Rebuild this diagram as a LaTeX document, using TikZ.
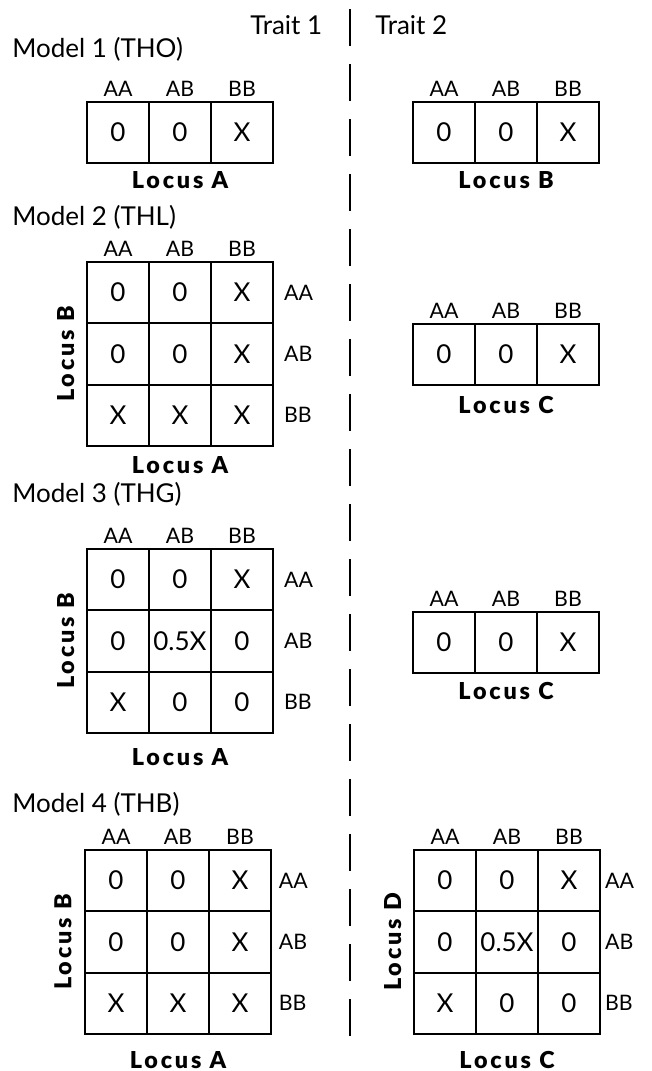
\documentclass[tikz,border=0pt]{standalone}
\usepackage{fontspec}
\setmainfont{Lato}
\newfontfamily\locusface[LetterSpace=12, BoldFont={Lato Black}]{Lato}

% one cell of a genotype table: #1 name prefix, #2 left edge, #3 top edge, #4 row-major values
\newcommand\cellgrid[4]{%
  \foreach \v [count=\i from 0] in {#4} {
    \pgfmathtruncatemacro\rr{floor(\i/3)+1}
    \pgfmathtruncatemacro\cc{mod(\i,3)+1}
    \node[cell] (#1-\rr-\cc) at ({#2+31+62*(\cc-1)},{#3+30.65+61.3*(\rr-1)}) {\v};
  }
}
% genotype labels above the columns of a table
\newcommand\colheads[1]{%
  \foreach \g [count=\cc] in {AA,AB,BB}
    \node[head, anchor=base] (#1-h\cc) at ([yshift=3.5pt]#1-1-\cc.north) {\g};
}
% genotype labels right of the rows of a table
\newcommand\rowheads[2]{%
  \foreach \g [count=\rr] in {AA,AB,BB}
    \node[head, anchor=west] (#1-v\rr) at ([xshift=#2]#1-\rr-3.east) {\g};
}

\begin{document}
\begin{tikzpicture}[x=0.75pt, y=-0.75pt,
  cell/.style={draw, line width=1.35pt, minimum width=46.5pt, minimum height=46pt,
    inner sep=0pt, font=\fontsize{19.5}{22}\selectfont},
  head/.style={inner sep=0pt, font=\fontsize{16}{18}\selectfont},
  title/.style={inner sep=0pt, anchor=base west, font=\fontsize{19.5}{22}\selectfont},
  locus/.style={inner sep=0pt, anchor=base, font=\fontsize{17.5}{20}\locusface\bfseries},
  divider/.style={line width=2pt, dash pattern=on 27.75pt off 13.5pt}]

\useasboundingbox (0,0) rectangle (652,1071);

% column headings and the divider between the two traits
\node[title] (trait1) at (250,34) {Trait 1};
\node[title] (trait2) at (375,34) {Trait 2};
\coordinate (divtop) at (350,9);
\coordinate (divbot) at (350,1036);
\draw[divider] (divtop) -- (divbot);

% ---- Model 1 ----
\node[title] (m1) at (12,57) {Model 1 (THO)};
\cellgrid{a}{87}{102}{0,0,X}
\colheads{a}
\node[locus] (aloc) at (180,188) {Locus A};
\cellgrid{b}{413}{102}{0,0,X}
\colheads{b}
\node[locus] (bloc) at (506,188) {Locus B};

% ---- Model 2 ----
\node[title] (m2) at (12,225) {Model 2 (THL)};
\cellgrid{c}{87}{262}{0,0,X,0,0,X,X,X,X}
\colheads{c}
\rowheads{c}{7.5pt}
\node[locus, rotate=90] (cy) at ([xshift=-9pt]c-2-1.west) {Locus B};
\node[locus] (cx) at (180,473) {Locus A};
\cellgrid{d}{413}{324}{0,0,X}
\colheads{d}
\node[locus] (dloc) at (506,413) {Locus C};

% ---- Model 3 ----
\node[title] (m3) at (12,502) {Model 3 (THG)};
\cellgrid{e}{87}{549}{0,0,X,0,0.5X,0,X,0,0}
\colheads{e}
\rowheads{e}{7.5pt}
\node[locus, rotate=90] (ey) at ([xshift=-9pt]e-2-1.west) {Locus B};
\node[locus] (ex) at (180,765) {Locus A};
\cellgrid{f}{413}{612}{0,0,X}
\colheads{f}
\node[locus] (floc) at (506,699) {Locus C};

% ---- Model 4 ----
\node[title] (m4) at (12,812) {Model 4 (THB)};
\cellgrid{g}{85}{850}{0,0,X,0,0,X,X,X,X}
\colheads{g}
\rowheads{g}{5pt}
\node[locus, rotate=90] (gy) at ([xshift=-9.5pt]g-2-1.west) {Locus B};
\node[locus] (gx) at (178,1068) {Locus A};
\cellgrid{h}{414}{850}{0,0,X,0,0.5X,0,X,0,0}
\colheads{h}
\rowheads{h}{3pt}
\node[locus, rotate=90] (hy) at ([xshift=-9pt]h-2-1.west) {Locus D};
\node[locus] (hx) at (507,1068) {Locus C};

\end{tikzpicture}
\end{document}
